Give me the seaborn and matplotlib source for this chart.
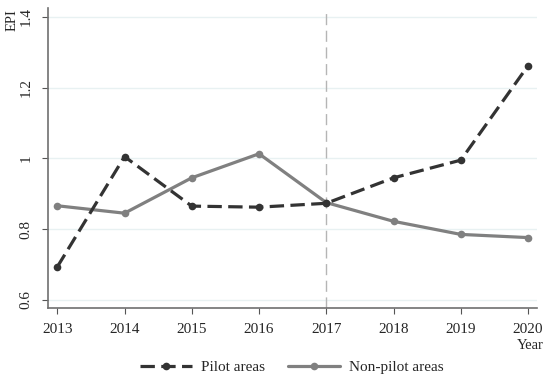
import matplotlib
matplotlib.use("Agg")
import matplotlib.pyplot as plt
import seaborn as sns
import pandas as pd

years = [2013, 2014, 2015, 2016, 2017, 2018, 2019, 2020]
pilot = [0.693, 1.005, 0.865, 0.862, 0.873, 0.945, 0.995, 1.262]
non_pilot = [0.866, 0.845, 0.945, 1.013, 0.875, 0.822, 0.785, 0.776]
y_ticks = [0.6, 0.8, 1.0, 1.2, 1.4]
y_labels = ["0.6", "0.8", "1", "1.2", "1.4"]

sns.set_style("white")
plt.rcParams["font.family"] = ["Liberation Serif", "DejaVu Serif"]

df = pd.DataFrame({"Year": years, "Pilot areas": pilot, "Non-pilot areas": non_pilot})

fig = plt.figure(figsize=(5.5, 3.84), dpi=100)
ax = fig.add_axes([0.087, 0.198, 0.889, 0.781])

# light grid and the 2017 reference line
for yv in y_ticks:
    ax.axhline(yv, color="#e8f1f2", lw=1, zorder=0)
ax.axvline(2017, color="#b5b5b5", lw=1, ls=(0, (8, 4)), zorder=1)

sns.lineplot(data=df, x="Year", y="Pilot areas", ax=ax, color="#333333", lw=2.3,
             ls=(0, (4.5, 2)), marker="o", markersize=5.5, markeredgewidth=0,
             label="Pilot areas", zorder=3)
sns.lineplot(data=df, x="Year", y="Non-pilot areas", ax=ax, color="#808080", lw=2.3,
             marker="o", markersize=5.5, markeredgewidth=0,
             label="Non-pilot areas", zorder=2)

ax.set_xlim(2012.86, 2020.13)
ax.set_ylim(0.577, 1.425)
ax.set_xticks(years)
ax.set_yticks(y_ticks)
ax.set_yticklabels(y_labels, rotation=90, va="center")
ax.tick_params(axis="both", labelsize=11, length=4, width=0.8, color="#555555",
               direction="out", pad=7)
ax.tick_params(axis="both", which="both", bottom=True, left=True)

for side in ["top", "right"]:
    ax.spines[side].set_visible(False)
for side in ["left", "bottom"]:
    ax.spines[side].set_color("#707070")
    ax.spines[side].set_linewidth(1.2)

ax.set_xlabel("")
ax.set_ylabel("")
fig.text(0.022, 0.975, "EPI", rotation=90, ha="center", va="top", fontsize=10.5)
fig.text(0.988, 0.1, "Year", ha="right", va="center", fontsize=10.5)

handles, labels = ax.get_legend_handles_labels()
ax.get_legend().remove()
fig.legend(handles, labels, loc="center", bbox_to_anchor=(0.53, 0.044), ncol=2,
           frameon=False, fontsize=11, handlelength=3.4, columnspacing=1.5,
           handletextpad=0.6)

fig.savefig("out.png", dpi=100)
